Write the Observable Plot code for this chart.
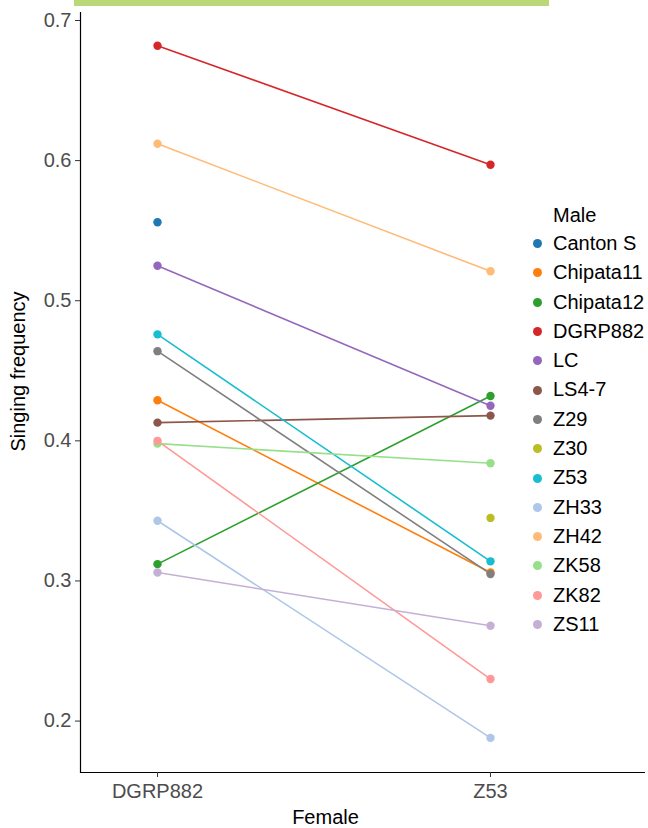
<!DOCTYPE html>
<html>
<head>
<meta charset="utf-8">
<script src="https://cdn.jsdelivr.net/npm/d3@7"></script>
<script src="https://cdn.jsdelivr.net/npm/@observablehq/plot@0.6"></script>
<style>
  html, body { margin: 0; padding: 0; background: #fff; }
  #wrap { position: relative; width: 648px; height: 828px; font-family: "Liberation Sans", Arial, Helvetica, sans-serif; }
  #strip { position: absolute; left: 74px; top: 0; width: 475px; height: 6px; background: #bbd878; }
  #legend { position: absolute; left: 531px; top: 201px; color: #000; font-size: 20px; }
  #legend .title { height: 28px; line-height: 28px; padding-left: 22px; }
  #legend .row { height: 29.3px; line-height: 29.3px; display: flex; align-items: center; }
  #legend .sw { width: 9px; height: 9px; border-radius: 50%; margin-left: 2px; margin-right: 11px; }
</style>
</head>
<body>
<div id="wrap">
  <div id="chart"></div>
  <div id="strip"></div>
  <div id="legend"></div>
</div>
<script>
// ---- data ----
const males = ["Canton S","Chipata11","Chipata12","DGRP882","LC","LS4-7","Z29","Z30","Z53","ZH33","ZH42","ZK58","ZK82","ZS11"];
const females = ["DGRP882","Z53"];
const freqDGRP882 = [0.556, 0.429, 0.312, 0.682, 0.525, 0.413, 0.464, null, 0.476, 0.343, 0.612, 0.398, 0.400, 0.306];
const freqZ53     = [null, 0.306, 0.432, 0.597, 0.425, 0.418, 0.305, 0.345, 0.314, 0.188, 0.521, 0.384, 0.230, 0.268];
const palette = ["#1f77b4","#ff7f0e","#2ca02c","#d62728","#9467bd","#8c564b","#7f7f7f","#bcbd22","#17becf","#aec7e8","#ffbb78","#98df8a","#ff9896","#c5b0d5"];
const yTicks = [0.2, 0.3, 0.4, 0.5, 0.6, 0.7];
const yLabel = "Singing frequency";
const xLabel = "Female";
const legendTitle = "Male";

// ---- table ----
const rows = [];
males.forEach((m, i) => {
  if (freqDGRP882[i] != null) rows.push({male: m, female: females[0], freq: freqDGRP882[i]});
  if (freqZ53[i] != null) rows.push({male: m, female: females[1], freq: freqZ53[i]});
});

const yMin = 0.1633, yMax = 0.7057;
const tickColor = "#4d4d4d";

const chart = Plot.plot({
  width: 648,
  height: 828,
  marginLeft: 80,
  marginRight: 3,
  marginTop: 12,
  marginBottom: 56,
  style: {fontFamily: "'Liberation Sans', Arial, Helvetica, sans-serif", fontSize: "20px", background: "transparent", overflow: "visible"},
  x: {type: "point", domain: females, padding: 0.3466, align: 0.333},
  y: {domain: [yMin, yMax]},
  color: {domain: males, range: palette},
  marks: [
    Plot.ruleY([yMin], {stroke: "#000", strokeWidth: 1.2}),
    Plot.frame({anchor: "left", stroke: "#000", strokeWidth: 1.2}),
    Plot.axisY({ticks: yTicks, tickFormat: d3.format(".1f"), tickSize: 5, tickPadding: 4, fontSize: 20, color: tickColor, stroke: "#333", label: null}),
    Plot.axisX({tickSize: 5, tickPadding: 6, fontSize: 20, color: tickColor, stroke: "#333", label: null}),
    Plot.line(rows, {x: "female", y: "freq", z: "male", stroke: "male", strokeWidth: 1.6}),
    Plot.dot(rows, {x: "female", y: "freq", fill: "male", r: 4.2}),
    Plot.text([yLabel], {frameAnchor: "left", textAnchor: "middle", lineAnchor: "middle", rotate: -90, dx: -62, dy: -21, fontSize: 20, fill: "#000"}),
    Plot.text([xLabel], {frameAnchor: "bottom", textAnchor: "middle", lineAnchor: "middle", dx: -37.5, dy: 45, fontSize: 20, fill: "#000"})
  ]
});
document.getElementById("chart").appendChild(chart);

// ---- legend ----
const lg = document.getElementById("legend");
const t = document.createElement("div");
t.className = "title"; t.textContent = legendTitle; lg.appendChild(t);
males.forEach((m, i) => {
  const r = document.createElement("div"); r.className = "row";
  const s = document.createElement("span"); s.className = "sw"; s.style.background = palette[i];
  const l = document.createElement("span"); l.textContent = m;
  r.appendChild(s); r.appendChild(l); lg.appendChild(r);
});
</script>
</body>
</html>
